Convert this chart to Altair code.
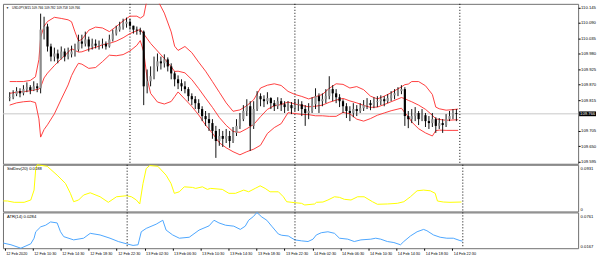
import altair as alt
import pandas as pd

# ---------------- data (hours since 12 Feb 2020 00:00) ----------------
bar_hours = [6.5 + 0.5 * i for i in range(131)]   # 30-minute bar times
first_open = 109.822
close = [
    109.825, 109.836, 109.847, 109.839, 109.854, 109.861, 109.850, 109.864, 109.857, 110.066,
    110.077, 110.006, 109.970, 109.981, 109.963, 109.988, 109.970, 109.978, 109.988, 109.995,
    110.024, 110.016, 110.031, 110.006, 110.016, 110.009, 110.013, 110.016, 110.006, 110.031,
    110.052, 110.066, 110.077, 110.087, 110.094, 110.080, 110.066, 110.063, 110.059, 109.864,
    109.882, 109.900, 109.935, 109.953, 109.946, 109.960, 109.935, 109.910, 109.889, 109.875,
    109.864, 109.854, 109.829, 109.818, 109.804, 109.783, 109.758, 109.747, 109.733, 109.705,
    109.669, 109.687, 109.677, 109.687, 109.669, 109.698, 109.723, 109.747, 109.776, 109.793,
    109.723, 109.783, 109.829, 109.818, 109.811, 109.822, 109.804, 109.793, 109.811, 109.800,
    109.790, 109.797, 109.786, 109.797, 109.800, 109.783, 109.769, 109.776, 109.800, 109.829,
    109.811, 109.818, 109.829, 109.854, 109.839, 109.825, 109.811, 109.793, 109.776, 109.769,
    109.783, 109.776, 109.786, 109.797, 109.804, 109.797, 109.808, 109.811, 109.818, 109.811,
    109.822, 109.832, 109.839, 109.847, 109.854, 109.758, 109.747, 109.758, 109.769, 109.747,
    109.761, 109.740, 109.733, 109.747, 109.723, 109.733, 109.726, 109.747, 109.758, 109.769, 109.766]
high = [
    109.843, 109.850, 109.861, 109.857, 109.868, 109.878, 109.868, 109.882, 109.875, 110.123,
    110.112, 110.087, 110.016, 110.002, 109.995, 110.006, 109.999, 110.002, 110.009, 110.016,
    110.048, 110.048, 110.059, 110.041, 110.034, 110.031, 110.027, 110.034, 110.024, 110.048,
    110.066, 110.080, 110.094, 110.105, 110.109, 110.105, 110.080, 110.077, 110.073, 110.063,
    109.924, 109.935, 109.970, 109.981, 109.970, 109.978, 109.967, 109.946, 109.917, 109.903,
    109.889, 109.882, 109.861, 109.839, 109.829, 109.818, 109.793, 109.776, 109.769, 109.747,
    109.723, 109.712, 109.705, 109.712, 109.705, 109.719, 109.747, 109.769, 109.797, 109.818,
    109.811, 109.811, 109.847, 109.839, 109.832, 109.843, 109.825, 109.815, 109.825, 109.822,
    109.811, 109.811, 109.808, 109.818, 109.818, 109.811, 109.797, 109.804, 109.825, 109.857,
    109.839, 109.839, 109.854, 109.900, 109.868, 109.854, 109.836, 109.818, 109.804, 109.793,
    109.804, 109.797, 109.804, 109.815, 109.822, 109.815, 109.825, 109.829, 109.832, 109.829,
    109.836, 109.847, 109.854, 109.861, 109.868, 109.861, 109.776, 109.783, 109.790, 109.776,
    109.783, 109.769, 109.758, 109.769, 109.754, 109.751, 109.747, 109.765, 109.776, 109.783, 109.783]
low = [
    109.811, 109.818, 109.829, 109.825, 109.832, 109.843, 109.836, 109.847, 109.843, 109.839,
    110.031, 109.988, 109.953, 109.953, 109.946, 109.960, 109.953, 109.960, 109.967, 109.970,
    109.988, 109.999, 110.006, 109.988, 109.995, 109.999, 109.995, 109.999, 109.995, 110.002,
    110.024, 110.045, 110.059, 110.066, 110.073, 110.066, 110.052, 110.048, 110.048, 109.797,
    109.839, 109.864, 109.889, 109.917, 109.924, 109.931, 109.917, 109.889, 109.864, 109.854,
    109.847, 109.839, 109.811, 109.797, 109.783, 109.769, 109.740, 109.723, 109.705, 109.677,
    109.609, 109.652, 109.648, 109.662, 109.645, 109.662, 109.687, 109.712, 109.740, 109.758,
    109.634, 109.712, 109.776, 109.793, 109.790, 109.800, 109.783, 109.776, 109.783, 109.776,
    109.769, 109.776, 109.765, 109.776, 109.776, 109.758, 109.723, 109.747, 109.769, 109.783,
    109.769, 109.793, 109.804, 109.818, 109.811, 109.804, 109.790, 109.769, 109.751, 109.740,
    109.754, 109.758, 109.769, 109.776, 109.783, 109.779, 109.786, 109.790, 109.797, 109.793,
    109.804, 109.811, 109.818, 109.829, 109.836, 109.723, 109.715, 109.733, 109.740, 109.726,
    109.740, 109.719, 109.712, 109.719, 109.698, 109.712, 109.698, 109.719, 109.740, 109.747, 109.740]

band_hours = [6.5, 7.5, 8.5, 9.5, 10.25, 10.75, 11, 11.5, 12, 13, 14, 15, 15.5, 16, 16.5, 17,
              18, 19, 20, 21, 22, 23, 24, 25, 25.5, 26, 26.5, 27, 28, 29, 30, 30.5, 31, 32, 33,
              34, 35, 36, 37, 38, 39, 40, 41, 42, 43, 44, 45, 46, 47, 48, 49, 50, 51, 52, 53, 54,
              55, 56, 57, 58, 59, 60, 61, 62, 63, 63.5, 64, 64.5, 65, 66, 67, 68, 68.5, 69, 70,
              71, 71.75]
bb_upper = [109.881, 109.881, 109.881, 109.885, 109.898, 109.960, 110.039, 110.078, 110.095, 110.110,
            110.106, 110.101, 110.094, 110.058, 110.026, 110.031, 110.064, 110.075, 110.072, 110.059,
            110.077, 110.097, 110.114, 110.114, 110.107, 110.115, 110.176, 110.195, 110.172, 110.125,
            110.058, 110.007, 109.992, 110.006, 109.984, 109.950, 109.918, 109.881, 109.843, 109.805,
            109.775, 109.780, 109.795, 109.816, 109.858, 109.868, 109.873, 109.867, 109.846, 109.835,
            109.828, 109.819, 109.827, 109.835, 109.857, 109.873, 109.871, 109.858, 109.863, 109.852,
            109.829, 109.819, 109.829, 109.841, 109.855, 109.862, 109.870, 109.872, 109.881, 109.881,
            109.866, 109.835, 109.790, 109.784, 109.779, 109.781, 109.783]
bb_mid = [109.839, 109.843, 109.845, 109.848, 109.852, 109.854, 109.861, 109.894, 109.911, 109.938,
          109.962, 109.985, 109.998, 109.992, 109.986, 109.987, 109.996, 110.003, 110.012, 110.017,
          110.025, 110.037, 110.052, 110.062, 110.067, 110.051, 110.034, 110.017, 109.990, 109.963,
          109.934, 109.917, 109.918, 109.912, 109.888, 109.856, 109.822, 109.789, 109.753, 109.725,
          109.703, 109.700, 109.713, 109.728, 109.756, 109.782, 109.795, 109.799, 109.808, 109.801,
          109.796, 109.791, 109.793, 109.797, 109.807, 109.815, 109.821, 109.812, 109.805, 109.796,
          109.789, 109.790, 109.799, 109.809, 109.819, 109.824, 109.820, 109.814, 109.809, 109.797,
          109.782, 109.761, 109.748, 109.746, 109.743, 109.744, 109.745]
bb_lower = [109.797, 109.805, 109.809, 109.811, 109.806, 109.748, 109.683, 109.710, 109.727, 109.766,
            109.818, 109.869, 109.902, 109.926, 109.946, 109.943, 109.928, 109.931, 109.952, 109.975,
            109.973, 109.977, 109.990, 110.010, 110.027, 109.987, 109.892, 109.839, 109.808, 109.801,
            109.810, 109.827, 109.844, 109.818, 109.792, 109.762, 109.726, 109.697, 109.663, 109.645,
            109.631, 109.620, 109.631, 109.640, 109.654, 109.696, 109.717, 109.731, 109.770, 109.767,
            109.764, 109.763, 109.759, 109.759, 109.757, 109.757, 109.771, 109.766, 109.747, 109.740,
            109.749, 109.761, 109.769, 109.777, 109.783, 109.786, 109.770, 109.756, 109.737, 109.713,
            109.698, 109.687, 109.706, 109.708, 109.707, 109.707, 109.707]

sd_hours = [6.3, 6.89, 7.85, 9.27, 10.22, 10.69, 10.93, 11.15, 12.57, 13.99, 15.18, 15.88, 16.35,
            17.06, 17.77, 18.72, 20.13, 21.31, 22.48, 23.90, 24.61, 25.32, 25.80, 26.27, 26.73,
            27.22, 28.39, 29.57, 30.27, 30.75, 31.46, 32.17, 33.35, 33.81, 34.76, 35.47, 35.94,
            37.60, 38.55, 39.48, 40.67, 41.38, 42.31, 43.02, 43.73, 44.44, 45.63, 46.34, 46.81,
            47.99, 48.93, 49.40, 50.82, 51.06, 52.00, 52.71, 53.65, 54.36, 55.06, 56.01, 56.96,
            57.89, 59.08, 59.79, 61.21, 62.63, 63.57, 64.51, 65.46, 66.39, 67.34, 68.05, 68.37,
            69.22, 70.17, 71.81]
sd_values = [0.0210, 0.0208, 0.0182, 0.0182, 0.0228, 0.0426, 0.0856, 0.0931, 0.0900, 0.0723,
             0.0559, 0.0361, 0.0194, 0.0228, 0.0327, 0.0372, 0.0293, 0.0182, 0.0293, 0.0313,
             0.0293, 0.0228, 0.0149, 0.0559, 0.0856, 0.0915, 0.0900, 0.0723, 0.0559, 0.0361,
             0.0392, 0.0491, 0.0479, 0.0460, 0.0491, 0.0440, 0.0460, 0.0440, 0.0361, 0.0361,
             0.0426, 0.0392, 0.0460, 0.0511, 0.0460, 0.0392, 0.0392, 0.0293, 0.0194, 0.0174,
             0.0162, 0.0129, 0.0149, 0.0182, 0.0188, 0.0228, 0.0293, 0.0281, 0.0242, 0.0228,
             0.0293, 0.0293, 0.0194, 0.0143, 0.0149, 0.0162, 0.0194, 0.0293, 0.0412, 0.0426,
             0.0412, 0.0361, 0.0208, 0.0188, 0.0182, 0.0188]

atr_hours = [6.3, 7.39, 8.80, 10.22, 10.69, 10.93, 11.64, 12.35, 13.05, 13.99, 14.47, 14.93, 16.35,
             17.77, 18.72, 20.13, 21.55, 22.73, 23.90, 24.85, 25.56, 26.02, 26.73, 28.15, 29.10,
             29.57, 30.51, 31.46, 32.88, 34.29, 35.71, 36.42, 37.13, 38.07, 39.25, 40.18, 40.89,
             41.37, 42.08, 42.55, 43.26, 43.97, 44.67, 45.62, 46.10, 47.04, 47.98, 48.93, 49.87,
             50.58, 51.05, 51.76, 52.71, 53.65, 54.36, 55.55, 56.48, 57.43, 58.84, 59.55, 60.26,
             61.21, 62.14, 63.09, 63.56, 64.51, 65.46, 66.39, 66.87, 67.81, 68.76, 69.71, 70.64,
             71.59, 71.95]
atr_values = [0.0252, 0.0224, 0.0167, 0.0240, 0.0333, 0.0440, 0.0522, 0.0549, 0.0603, 0.0587,
              0.0440, 0.0359, 0.0305, 0.0333, 0.0414, 0.0387, 0.0333, 0.0278, 0.0240, 0.0213,
              0.0224, 0.0440, 0.0496, 0.0566, 0.0631, 0.0468, 0.0387, 0.0333, 0.0349, 0.0468,
              0.0538, 0.0631, 0.0587, 0.0549, 0.0533, 0.0479, 0.0533, 0.0631, 0.0696, 0.0761,
              0.0685, 0.0631, 0.0533, 0.0403, 0.0382, 0.0370, 0.0305, 0.0289, 0.0278, 0.0317,
              0.0387, 0.0424, 0.0440, 0.0414, 0.0333, 0.0317, 0.0278, 0.0305, 0.0317, 0.0333,
              0.0317, 0.0278, 0.0261, 0.0224, 0.0278, 0.0370, 0.0440, 0.0479, 0.0457, 0.0387,
              0.0349, 0.0333, 0.0333, 0.0294, 0.0284]

day_breaks = [24, 48, 72]
current_price = 109.766
title_text = "USDJPY,M15  109.766 109.782 109.758 109.766"
sd_title = "StdDev(20) 0.0188"
atr_title = "ATR(14) 0.0284"

# 109.760 sits under the current-price box, so it is not printed
price_ticks = [110.145, 110.090, 110.035, 109.980, 109.925, 109.870, 109.815,
               109.705, 109.650, 109.595]
time_ticks = [6.5, 10.5, 14.5, 18.5, 22.5, 26.5, 30.5, 34.5, 38.5, 42.5, 46.5,
              50.5, 54.5, 58.5, 62.5, 66.5, 70.5]
time_labels = ["12 Feb 2020", "12 Feb 10:30", "12 Feb 14:30", "12 Feb 18:30", "12 Feb 22:30",
               "13 Feb 02:30", "13 Feb 06:30", "13 Feb 10:30", "13 Feb 14:30", "13 Feb 18:30",
               "13 Feb 22:30", "14 Feb 02:30", "14 Feb 06:30", "14 Feb 10:30", "14 Feb 14:30",
               "14 Feb 18:30", "14 Feb 22:30"]
sd_label_text = ["0.0931", "0"]
atr_label_text = ["0.0761", "0.0167"]

# ---------------- frames ----------------
open_ = [first_open] + close[:-1]
candles = pd.DataFrame({"h": bar_hours, "open": open_, "high": high, "low": low, "close": close})
candles["dir"] = ["up" if c >= o else "down" for o, c in zip(open_, close)]
bands = pd.DataFrame({"h": band_hours, "upper": bb_upper, "mid": bb_mid, "lower": bb_lower})
bands_long = bands.melt("h", var_name="band", value_name="price")
sd_df = pd.DataFrame({"h": sd_hours, "v": sd_values})
atr_df = pd.DataFrame({"h": atr_hours, "v": atr_values})
breaks_df = pd.DataFrame({"h": day_breaks})
cur_df = pd.DataFrame({"p": [current_price], "lo": [current_price - 0.0085],
                       "hi": [current_price + 0.0085], "t": [f"{current_price:.3f}"]})

W = 579
H_MAIN, H_SD, H_ATR = 161, 47, 36
FONT = "Liberation Sans"

xs = alt.Scale(domain=[6.244, 88.49], nice=False, zero=False)
ys_main = alt.Scale(domain=[109.588, 110.158], nice=False, zero=False)
ys_sd = alt.Scale(domain=[0, 0.0931], nice=False, zero=False)
ys_atr = alt.Scale(domain=[0.0167, 0.0761], nice=False, zero=False)

time_expr = " : ".join(f"datum.value == {h} ? '{t}'" for h, t in zip(time_ticks, time_labels)) + " : ''"
time_axis = alt.Axis(orient="bottom", values=time_ticks, labelExpr=time_expr, title=None,
                     grid=False, domain=False, tickSize=2, tickColor="black",
                     labelAlign="left", labelOffset=1, labelPadding=1, labelFontSize=3.8,
                     labelColor="black", labelOverlap=False, labelFlush=False)
price_axis = alt.Axis(orient="right", values=price_ticks, format=".3f", title=None, grid=False,
                      domain=False, tickSize=2, tickColor="black", labelPadding=0.5,
                      labelFontSize=4.2, labelColor="black", labelOverlap=False)
sd_ticks = [0.0866, 0.0046]
sd_expr = f"datum.value > 0.05 ? '{sd_label_text[0]}' : '{sd_label_text[1]}'"
sd_axis = alt.Axis(orient="right", values=sd_ticks, labelExpr=sd_expr, ticks=False,
                   domain=False, grid=False, title=None, labelPadding=2,
                   labelFontSize=4.2, labelColor="black", labelOverlap=False)
atr_ticks = [0.0700, 0.0195]
atr_expr = f"datum.value > 0.045 ? '{atr_label_text[0]}' : '{atr_label_text[1]}'"
atr_axis = alt.Axis(orient="right", values=atr_ticks, labelExpr=atr_expr, ticks=False,
                    domain=False, grid=False, title=None, labelPadding=2,
                    labelFontSize=4.2, labelColor="black", labelOverlap=False)

X_TOP = alt.X("h:Q", scale=xs, axis=None)
X_BOTTOM = alt.X("h:Q", scale=xs, axis=time_axis)


def seps(xenc):
    return alt.Chart(breaks_df).mark_rule(color="black", strokeDash=[1, 2], strokeWidth=1).encode(
        x=xenc)


def ym(field):
    return alt.Y(field, scale=ys_main, axis=price_axis)


# ---------------- main price panel ----------------
cur_line = alt.Chart(cur_df).mark_rule(color="#c8c8c8", strokeWidth=1).encode(y=ym("p:Q"))
band_lines = alt.Chart(bands_long).mark_line(color="#ff2a2a", strokeWidth=0.9, clip=True).encode(
    x=X_TOP, y=ym("price:Q"), detail="band:N")
wicks = alt.Chart(candles).mark_rule(color="#111111", strokeWidth=1).encode(
    x=X_TOP, y=ym("low:Q"), y2="high:Q")
bodies = alt.Chart(candles).mark_bar(size=2.2).encode(
    x=X_TOP, y=ym("open:Q"), y2="close:Q",
    color=alt.Color("dir:N", scale=alt.Scale(domain=["up", "down"], range=["#8c8c8c", "#000000"]),
                    legend=None))
price_box = alt.Chart(cur_df).mark_rect(color="black").encode(
    x=alt.value(W + 1), x2=alt.value(W + 18), y=ym("lo:Q"), y2="hi:Q")
price_box_text = alt.Chart(cur_df).mark_text(color="white", align="left", baseline="middle",
                                             fontSize=4.2, font=FONT).encode(
    x=alt.value(W + 2), y=ym("p:Q"), text="t:N")
arrow = alt.Chart(cur_df).mark_text(text="\u25bc", fontSize=3, align="left", baseline="middle",
                                    color="black").encode(x=alt.value(3), y=alt.value(3.8))
title = alt.Chart(cur_df).mark_text(text=title_text, fontSize=3.2, align="left", baseline="middle",
                                    color="black", font=FONT).encode(
    x=alt.value(9), y=alt.value(3.8))

main = alt.layer(cur_line, seps(X_TOP), band_lines, wicks, bodies, price_box, price_box_text,
                 arrow, title).properties(width=W, height=H_MAIN)

# ---------------- StdDev panel ----------------
sd_line = alt.Chart(sd_df).mark_line(color="#ffff00", strokeWidth=1).encode(
    x=X_TOP, y=alt.Y("v:Q", scale=ys_sd, axis=sd_axis))
sd_label = alt.Chart(cur_df).mark_text(text=sd_title, fontSize=4.2, align="left",
                                       baseline="middle", color="black", font=FONT).encode(
    x=alt.value(4), y=alt.value(4.5))
sd_panel = alt.layer(sd_line, seps(X_TOP), sd_label).properties(width=W, height=H_SD)

# ---------------- ATR panel ----------------
atr_line = alt.Chart(atr_df).mark_line(color="#4da6ff", strokeWidth=1).encode(
    x=X_BOTTOM, y=alt.Y("v:Q", scale=ys_atr, axis=atr_axis))
atr_label = alt.Chart(cur_df).mark_text(text=atr_title, fontSize=4.2, align="left",
                                        baseline="middle", color="black", font=FONT).encode(
    x=alt.value(4), y=alt.value(4.5))
atr_panel = alt.layer(atr_line, seps(X_BOTTOM), atr_label).properties(width=W, height=H_ATR)

chart = alt.vconcat(main, sd_panel, atr_panel, spacing=1, bounds="flush").properties(
    padding={"left": 0, "top": 2, "right": 0, "bottom": 0},
    background="white",
).configure_view(stroke="#707070", strokeWidth=1).configure_axis(
    labelFont=FONT, labelOverlap=False).configure_text(font=FONT)

chart.save("out.html", embed_options={"renderer": "svg", "actions": False})
